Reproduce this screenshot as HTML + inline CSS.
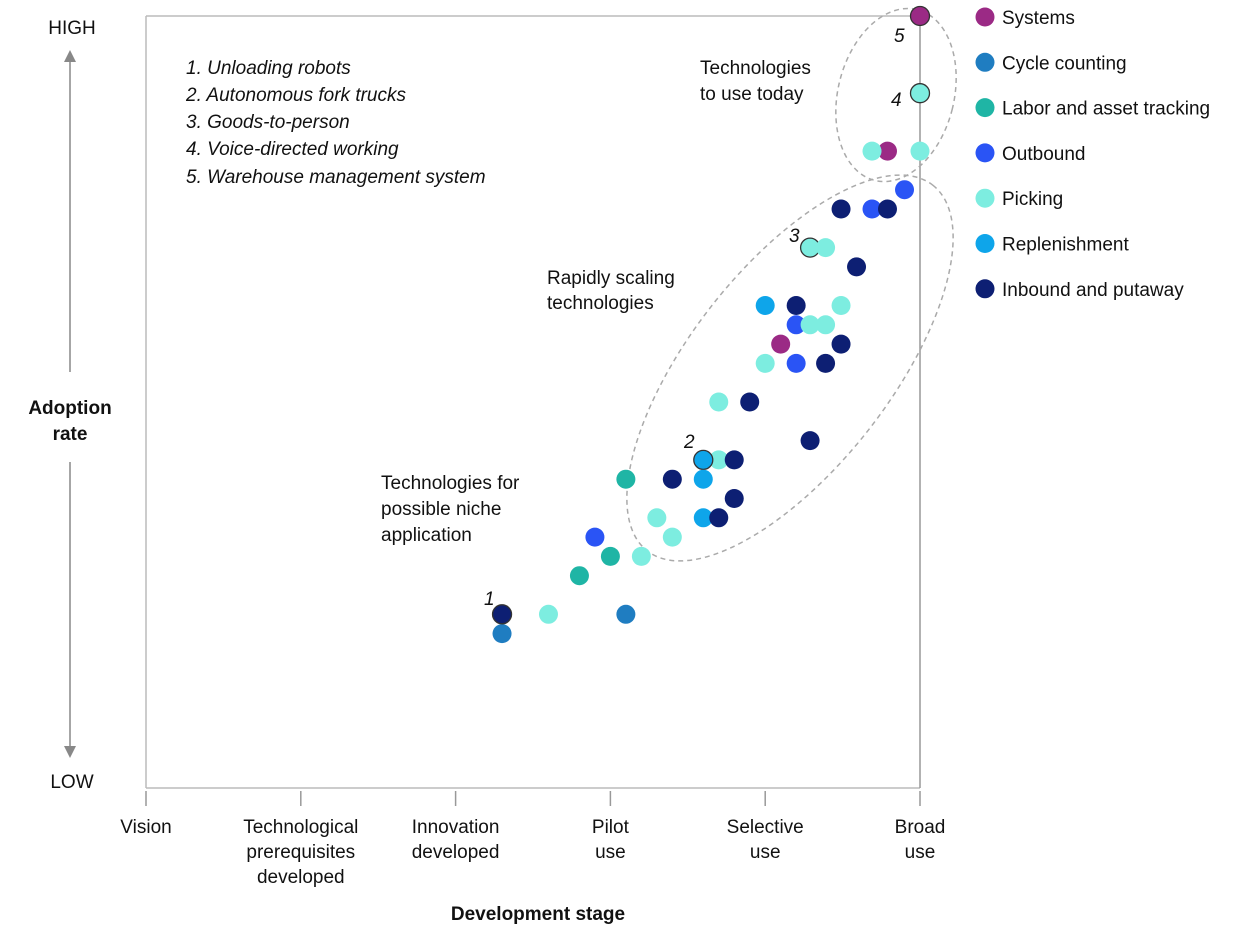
<!DOCTYPE html>
<html><head><meta charset="utf-8"><style>
body{margin:0;background:#fff;}
svg text{font-family:"Liberation Sans",sans-serif;fill:#111;}
</style></head><body>
<svg id="c" width="1250" height="931" xmlns="http://www.w3.org/2000/svg">
<g>
<line x1="146" y1="16" x2="920" y2="16" stroke="#bbb" stroke-width="1.5"/>
<line x1="146" y1="16" x2="146" y2="788" stroke="#bbb" stroke-width="1.5"/>
<line x1="146" y1="788" x2="920" y2="788" stroke="#bbb" stroke-width="1.5"/>
<line x1="920" y1="16" x2="920" y2="788" stroke="#999" stroke-width="1.5"/>
</g>
<g id="ticks"></g>
<text x="538" y="920" text-anchor="middle" font-size="19" font-weight="bold">Development stage</text>
<g>
<text x="72" y="34" text-anchor="middle" font-size="19">HIGH</text>
<text x="72" y="788" text-anchor="middle" font-size="19">LOW</text>
<line x1="70" y1="58" x2="70" y2="372" stroke="#888" stroke-width="1.5"/>
<line x1="70" y1="462" x2="70" y2="750" stroke="#888" stroke-width="1.5"/>
<polygon points="64,62 76,62 70,50" fill="#888"/>
<polygon points="64,746 76,746 70,758" fill="#888"/>
<text x="70" y="414" text-anchor="middle" font-size="19" font-weight="bold">Adoption</text>
<text x="70" y="440" text-anchor="middle" font-size="19" font-weight="bold">rate</text>
</g>
<g font-size="19" font-style="italic">
<text x="186" y="74">1.  Unloading robots</text>
<text x="186" y="101">2.  Autonomous fork trucks</text>
<text x="186" y="128">3.  Goods-to-person</text>
<text x="186" y="155">4.  Voice-directed working</text>
<text x="186" y="183">5.  Warehouse management system</text>
</g>
<g fill="none" stroke="#aaa" stroke-width="1.5" stroke-dasharray="5,4">
<ellipse cx="896" cy="95" rx="58" ry="88" transform="rotate(14 896 95)"/>
<ellipse cx="790" cy="368" rx="232" ry="100" transform="rotate(-52 790 368)"/>
</g>
<g font-size="19">
<text x="700" y="74">Technologies</text><text x="700" y="100">to use today</text>
<text x="547" y="284">Rapidly scaling</text><text x="547" y="309">technologies</text>
<text x="381" y="489">Technologies for</text><text x="381" y="515">possible niche</text><text x="381" y="541">application</text>
</g>
<g id="pts"></g>
<g font-size="19" font-style="italic">
<text x="484" y="605">1</text><text x="684" y="448">2</text><text x="789" y="242">3</text><text x="891" y="106">4</text><text x="894" y="42">5</text>
</g>
<g id="legend"></g>
</svg>
<script>
const ns="http://www.w3.org/2000/svg";
const stages=["Vision","Technological|prerequisites|developed","Innovation|developed","Pilot|use","Selective|use","Broad|use"];
const categories=["Systems","Cycle counting","Labor and asset tracking","Outbound","Picking","Replenishment","Inbound and putaway"];
const colors=["#9b2a85","#1f7dc1","#1fb5a5","#2a54f5","#7dede0","#0ea5ea","#0d1f73"];
// x = development stage (0-5), y = adoption rate (0-100)
const sysX=[5,4.79,4.1], sysY=[100,82.5,57.5];
const cycX=[2.3,3.1], cycY=[20,22.5];
const labX=[3.1,3.0,2.8], labY=[40,30,27.5];
const outX=[2.9,4.9,4.69,4.2,4.2], outY=[32.5,77.5,75,60,55];
const pickX=[5,4.69,5,4.29,4.39,4.49,4.29,4.39,4.0,3.7,3.7,3.3,3.4,3.2,2.6];
const pickY=[90,82.5,82.5,70,70,62.5,60,60,55,50,42.5,35,32.5,30,22.5];
const repX=[4.0,3.6,3.6,3.6], repY=[62.5,42.5,40,35];
const inbX=[2.3,4.49,4.79,4.59,4.2,4.49,4.39,3.9,4.29,3.8,3.4,3.8,3.7];
const inbY=[22.5,75,75,67.5,62.5,57.5,55,50,45,42.5,40,37.5,35];
const seriesX=[sysX,cycX,labX,outX,pickX,repX,inbX], seriesY=[sysY,cycY,labY,outY,pickY,repY,inbY];
const highlighted=[[0,0],[4,0],[4,3],[5,1],[6,0]];
const xs=v=>146+v*154.8, ys=v=>788-v*7.72;
const tg=document.getElementById('ticks');
stages.forEach((s,i)=>{
 const l=document.createElementNS(ns,'line');
 l.setAttribute('x1',xs(i));l.setAttribute('x2',xs(i));l.setAttribute('y1',791);l.setAttribute('y2',806);
 l.setAttribute('stroke','#999');l.setAttribute('stroke-width','1.5');
 
 
 tg.appendChild(l);
 s.split('|').forEach((ln,j)=>{
  const t=document.createElementNS(ns,'text');
  t.setAttribute('x',xs(i));t.setAttribute('y',833+j*25);t.setAttribute('text-anchor','middle');t.setAttribute('font-size','19');
  t.textContent=ln;
  
  
  tg.appendChild(t);
 });
});
const pg=document.getElementById('pts');
seriesX.forEach((xa,k)=>{xa.forEach((x,i)=>{
 const c=document.createElementNS(ns,'circle');
 c.setAttribute('cx',xs(x));c.setAttribute('cy',ys(seriesY[k][i]));c.setAttribute('r',9.5);c.setAttribute('fill',colors[k]);
 if(highlighted.some(h=>h[0]==k&&h[1]==i)){c.setAttribute('stroke','#333');c.setAttribute('stroke-width','1.3');}
 
 
 pg.appendChild(c);
});});
const lg=document.getElementById('legend');
categories.forEach((n,i)=>{
 const y=17+i*45.3;
 const c=document.createElementNS(ns,'circle');
 c.setAttribute('cx',985);c.setAttribute('cy',y);c.setAttribute('r',9.5);c.setAttribute('fill',colors[i]);
 
 
 lg.appendChild(c);
 const t=document.createElementNS(ns,'text');
 t.setAttribute('x',1002);t.setAttribute('y',y+7);t.setAttribute('font-size','19');t.textContent=n;
 
 
 lg.appendChild(t);
});
</script>
</body></html>
